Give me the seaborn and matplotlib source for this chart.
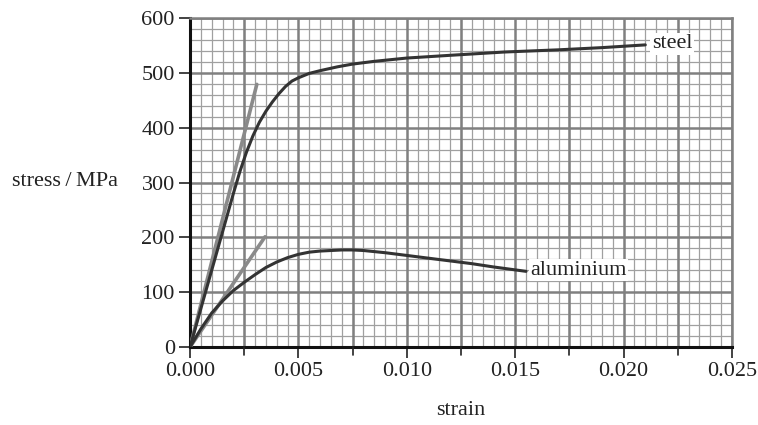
import numpy as np
import pandas as pd
import matplotlib
matplotlib.use('Agg')
import matplotlib.pyplot as plt
import seaborn as sns

# values
steel_strain = [0.0, 0.0005, 0.001, 0.0015, 0.002, 0.0023, 0.0026, 0.0029, 0.0032, 0.0035,
                0.0038, 0.0041, 0.0044, 0.0047, 0.005, 0.0055, 0.006, 0.0068, 0.0075, 0.0085,
                0.010, 0.012, 0.0145, 0.017, 0.019, 0.021]
steel_stress = [0, 70, 140, 210, 280, 320, 355, 385, 410, 430,
                447, 462, 475, 485, 491, 499, 504, 511, 516, 521,
                527, 532, 538, 542, 546, 551]

al_strain = [0.0, 0.0005, 0.001, 0.0015, 0.002, 0.0025, 0.003, 0.0035, 0.004, 0.0045,
             0.005, 0.0055, 0.006, 0.0065, 0.007, 0.0075, 0.008, 0.009, 0.010, 0.011,
             0.012, 0.013, 0.014, 0.0155]
al_stress = [0, 33, 62, 84, 103, 118, 132, 145, 155, 163,
             169, 173, 175, 176, 177, 177, 176, 172, 167, 162,
             157, 152, 146, 138]

# initial-gradient tangent lines drawn in grey
steel_tan_strain = [0.0, 0.00308]
steel_tan_stress = [0, 479]
al_tan_strain = [0.0, 0.00346]
al_tan_stress = [0, 201]

x_ticks = [0.000, 0.005, 0.010, 0.015, 0.020, 0.025]
y_ticks = [0, 100, 200, 300, 400, 500, 600]

sns.set_theme(style="white")
plt.rcParams['font.family'] = ['Liberation Serif', 'DejaVu Serif']

fig = plt.figure(figsize=(7.58, 4.25), dpi=100)
ax = fig.add_axes([0.2507, 0.1835, 0.7150, 0.7741])

# graph-paper grid
ax.set_xticks(np.arange(0, 0.02501, 0.0005), minor=True)
ax.set_yticks(np.arange(0, 601, 20), minor=True)
ax.grid(which='minor', color='#a0a0a0', linewidth=0.9)
for gx in np.arange(0.0025, 0.0251, 0.0025):
    ax.axvline(gx, color='#808080', linewidth=1.8, zorder=1)
for gy in np.arange(100, 601, 100):
    ax.axhline(gy, color='#808080', linewidth=1.8, zorder=1)
ax.set_axisbelow(True)

df_steel = pd.DataFrame({'strain': steel_strain, 'stress': steel_stress})
df_al = pd.DataFrame({'strain': al_strain, 'stress': al_stress})
df_st_tan = pd.DataFrame({'strain': steel_tan_strain, 'stress': steel_tan_stress})
df_al_tan = pd.DataFrame({'strain': al_tan_strain, 'stress': al_tan_stress})

sns.lineplot(data=df_st_tan, x='strain', y='stress', ax=ax, color='#8a8a8a', linewidth=2.6, zorder=3)
sns.lineplot(data=df_al_tan, x='strain', y='stress', ax=ax, color='#8a8a8a', linewidth=2.6, zorder=3)
sns.lineplot(data=df_steel, x='strain', y='stress', ax=ax, color='#333333', linewidth=2.2, zorder=4)
sns.lineplot(data=df_al, x='strain', y='stress', ax=ax, color='#333333', linewidth=2.2, zorder=4)

ax.text(0.0213, 553, 'steel', fontsize=16, va='center', ha='left', color='#222222',
        bbox=dict(facecolor='white', edgecolor='none', pad=1.0), zorder=5)
ax.text(0.0157, 140, 'aluminium', fontsize=16, va='center', ha='left', color='#222222',
        bbox=dict(facecolor='white', edgecolor='none', pad=1.0), zorder=5)

ax.set_xlim(0, 0.025)
ax.set_ylim(0, 600)
ax.set_xticks(x_ticks)
ax.set_xticklabels([f'{v:.3f}' for v in x_ticks])
ax.set_yticks(y_ticks)
ax.tick_params(axis='both', which='major', direction='out', length=8, width=1.2,
               colors='#222222', labelsize=16, pad=3, bottom=True, left=True)
ax.tick_params(axis='both', which='minor', length=0)
# small extra ticks at the half-way grid lines on the x axis
for hx in [0.0025, 0.0075, 0.0125, 0.0175, 0.0225]:
    ax.plot([hx, hx], [0, -14], color='#222222', linewidth=1.2, clip_on=False, zorder=5)

for side in ['left', 'bottom']:
    ax.spines[side].set_color('#111111')
    ax.spines[side].set_linewidth(2.2)
for side in ['top', 'right']:
    ax.spines[side].set_color('#808080')
    ax.spines[side].set_linewidth(1.8)

ax.set_xlabel('strain', fontsize=16, color='#222222', labelpad=14)
ax.set_ylabel('')
fig.text(0.016, (425 - 181) / 425, 'stress\u2009/\u2009MPa', fontsize=16, color='#222222',
         va='center', ha='left')

fig.savefig('out.png', dpi=100)
